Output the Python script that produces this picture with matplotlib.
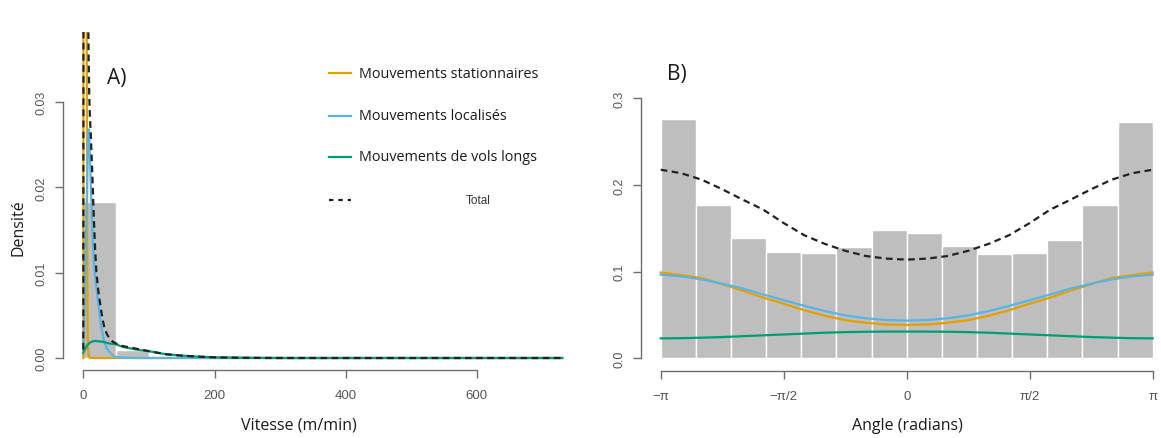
import matplotlib
matplotlib.use("Agg")
import matplotlib.pyplot as plt
from matplotlib.lines import Line2D
import numpy as np

W, H = 1161, 439
PI = np.pi

# --- Panel A: speed (m/min) ---
speed_edges = [0, 50, 100, 150, 200]
speed_hist = [0.0183, 0.00092, 0.00022, 0.00008]

stat_speed = [0, 0.3, 1, 2, 3, 4, 4.8, 5.2, 5.8, 6.2, 6.6, 7, 8, 9, 10, 730]
stat_dens = [0.0, 0.05, 0.09, 0.1, 0.095, 0.08, 0.06, 0.04, 0.02, 0.008, 0.003,
             0.0014, 0.0005, 0.0001, 0.0, 0.0]

loc_speed = [0, 2, 4, 6, 7.5, 8.5, 10, 12, 14, 16, 18, 20, 22, 25, 27, 30, 32,
             36, 40, 45, 50, 60, 80, 730]
loc_dens = [0.001, 0.006, 0.014, 0.021, 0.026, 0.0268, 0.024, 0.019, 0.0145,
            0.0115, 0.0095, 0.0082, 0.0069, 0.005, 0.0038, 0.0026, 0.0019,
            0.0011, 0.0007, 0.0003, 0.00012, 0.00003, 0.0, 0.0]

long_speed = [0, 3, 6, 10, 14, 18, 24, 30, 40, 50, 60, 80, 100, 125, 150, 175,
              200, 250, 300, 730]
long_dens = [0.0006, 0.0011, 0.0015, 0.0018, 0.00195, 0.002, 0.00195, 0.0019,
             0.0017, 0.0016, 0.0013, 0.001, 0.0008, 0.00045, 0.00028, 0.00016,
             0.00008, 0.00002, 0.0, 0.0]

total_speed = [0, 0.3, 1, 2, 3, 4, 5, 6, 7, 8, 9, 10, 11.7, 14, 16, 18, 20, 23,
               26, 29, 32, 36, 40, 45, 50, 60, 80, 100, 125, 150, 175, 200, 250,
               300, 730]
total_dens = [0.001, 0.05, 0.09, 0.1, 0.1, 0.095, 0.08, 0.06, 0.045, 0.036,
              0.031, 0.0285, 0.0257, 0.021, 0.0165, 0.0128, 0.0100, 0.0078,
              0.0062, 0.0047, 0.0036, 0.0028, 0.0023, 0.0019, 0.0017, 0.0014,
              0.0011, 0.0008, 0.00045, 0.00028, 0.00016, 0.00008, 0.00002, 0.0,
              0.0]

# --- Panel B: turning angle (radians) ---
angle_hist = [0.276, 0.177, 0.139, 0.123, 0.122, 0.128, 0.148,
              0.145, 0.129, 0.120, 0.121, 0.137, 0.177, 0.273]
angle_steps = list(range(-12, 13))  # multiples of pi/12
stat_angle = [0.099, 0.096, 0.0925, 0.0855, 0.078, 0.070, 0.063, 0.0555, 0.049,
              0.044, 0.041, 0.039, 0.0385, 0.039, 0.041, 0.044, 0.049, 0.0555,
              0.063, 0.070, 0.078, 0.0855, 0.0925, 0.096, 0.099]
loc_angle = [0.0965, 0.0945, 0.091, 0.086, 0.0805, 0.0735, 0.067, 0.0605,
             0.0545, 0.0495, 0.0462, 0.0442, 0.0435, 0.0442, 0.0462, 0.0495,
             0.0545, 0.0605, 0.067, 0.0735, 0.0805, 0.086, 0.091, 0.0945, 0.0965]
long_angle = [0.023, 0.0232, 0.0238, 0.0245, 0.0255, 0.0265, 0.0275, 0.0285,
              0.0295, 0.0302, 0.0306, 0.0308, 0.0308, 0.0308, 0.0306, 0.0302,
              0.0295, 0.0285, 0.0275, 0.0265, 0.0255, 0.0245, 0.0238, 0.0232,
              0.023]
total_angle = [0.2175, 0.2135, 0.206, 0.195, 0.183, 0.1715, 0.156, 0.142, 0.132,
               0.124, 0.118, 0.115, 0.1138, 0.115, 0.118, 0.124, 0.132, 0.142,
               0.156, 0.1715, 0.183, 0.195, 0.206, 0.2135, 0.2175]
angle_ticks = [-PI, -PI / 2, 0, PI / 2, PI]
angle_ticklabels = ["\u2212\u03c0", "\u2212\u03c0/2", "0", "\u03c0/2", "\u03c0"]

legend_labels = ["Mouvements stationnaires", "Mouvements localisés",
                 "Mouvements de vols longs"]

C_STAT = "#E69F00"
C_LOC = "#56B4E9"
C_LONG = "#009E73"
BAR = "#BEBEBE"
AXC = "#6E6E6E"
TICKC = "#555555"
LABEL_FONT = "Open Sans"
TICK_FONT = "Liberation Sans"
LW = 1.6


def fx(px):
    return px / W


def fy(py):
    return 1 - py / H


def style_axis(ax, ybounds, xbounds, yticks, xticks, xticklabels, yfmt):
    for side in ("top", "right"):
        ax.spines[side].set_visible(False)
    ax.spines["left"].set_bounds(*ybounds)
    ax.spines["bottom"].set_bounds(*xbounds)
    for side in ("left", "bottom"):
        ax.spines[side].set_color(AXC)
        ax.spines[side].set_linewidth(1.0)
    ax.set_yticks(yticks)
    ax.set_yticklabels([yfmt.format(v) for v in yticks], rotation=90,
                       va="center", family=TICK_FONT, fontsize=9, color=TICKC)
    ax.set_xticks(xticks)
    ax.set_xticklabels(xticklabels, family=TICK_FONT, fontsize=9.5, color=TICKC)
    ax.tick_params(axis="both", length=6, width=1.0, color=AXC, pad=5)
    ax.tick_params(axis="x", pad=8)


fig = plt.figure(figsize=(W / 100, H / 100), dpi=100)

# Panel A
axA = fig.add_axes([fx(63), fy(371), fx(565) - fx(63), fy(33) - fy(371)])
axA.bar(speed_edges[:-1], speed_hist, width=np.diff(speed_edges), align="edge",
        color=BAR, edgecolor="white", linewidth=1.0)
axA.plot(stat_speed, stat_dens, color=C_STAT, lw=LW)
axA.plot(loc_speed, loc_dens, color=C_LOC, lw=LW)
axA.plot(long_speed, long_dens, color=C_LONG, lw=LW)
axA.plot(total_speed, total_dens, color="#222222", lw=LW, dashes=(3, 2))
axA.set_xlim((63 - 83.3) / 0.656, (565 - 83.3) / 0.656)
axA.set_ylim((359 - 371) / 8530, (359 - 33) / 8530)
style_axis(axA, (0, 0.03), (0, 600), [0, 0.01, 0.02, 0.03], [0, 200, 400, 600],
           ["0", "200", "400", "600"], "{:.2f}")

# Panel B
axB = fig.add_axes([fx(641), fy(372), 1 - fx(641), fy(88) - fy(372)])
bin_w = 2 * PI / len(angle_hist)
bin_left = [-PI + i * bin_w for i in range(len(angle_hist))]
axB.bar(bin_left, angle_hist, width=bin_w, align="edge", color=BAR,
        edgecolor="white", linewidth=1.0)
angles = [k * PI / 12 for k in angle_steps]
axB.plot(angles, stat_angle, color=C_STAT, lw=LW)
axB.plot(angles, loc_angle, color=C_LOC, lw=LW)
axB.plot(angles, long_angle, color=C_LONG, lw=LW)
axB.plot(angles, total_angle, color="#222222", lw=LW, dashes=(3, 2))
axB.set_xlim((641 - 906.7) / 78.3, (W - 906.7) / 78.3)
axB.set_ylim((359.3 - 372) / 867, (359.3 - 88) / 867)
style_axis(axB, (0, 0.3), (-PI, PI), [0, 0.1, 0.2, 0.3], angle_ticks,
           angle_ticklabels, "{:.1f}")

# axis titles and panel letters
fig.text(fx(18), fy(228), "Densité", rotation=90, ha="center", va="center",
         family=LABEL_FONT, fontsize=11.5, color="#1a1a1a")
fig.text(fx(299), fy(426), "Vitesse (m/min)", ha="center", va="center",
         family=LABEL_FONT, fontsize=11.5, color="#1a1a1a")
fig.text(fx(907), fy(426), "Angle (radians)", ha="center", va="center",
         family=LABEL_FONT, fontsize=11.5, color="#1a1a1a")
fig.text(fx(117), fy(79), "A)", ha="center", va="center",
         family=LABEL_FONT, fontsize=15, color="#1a1a1a")
fig.text(fx(677), fy(75), "B)", ha="center", va="center",
         family=LABEL_FONT, fontsize=15, color="#1a1a1a")

# legend
rows_y = [74, 117, 158]
for y, label, col in zip(rows_y, legend_labels, [C_STAT, C_LOC, C_LONG]):
    fig.add_artist(Line2D([fx(329), fx(351)], [fy(y), fy(y)], color=col, lw=LW))
    fig.text(fx(359), fy(y), label, ha="left", va="center",
             family=LABEL_FONT, fontsize=10.4, color="#1a1a1a")
fig.add_artist(Line2D([fx(329), fx(351)], [fy(201), fy(201)], color="#222222",
                      lw=LW, dashes=(2, 2.2)))
fig.text(fx(478), fy(201), "Total", ha="center", va="center",
         family=TICK_FONT, fontsize=8.5, color="#333333")

fig.savefig("out.png", dpi=100)
